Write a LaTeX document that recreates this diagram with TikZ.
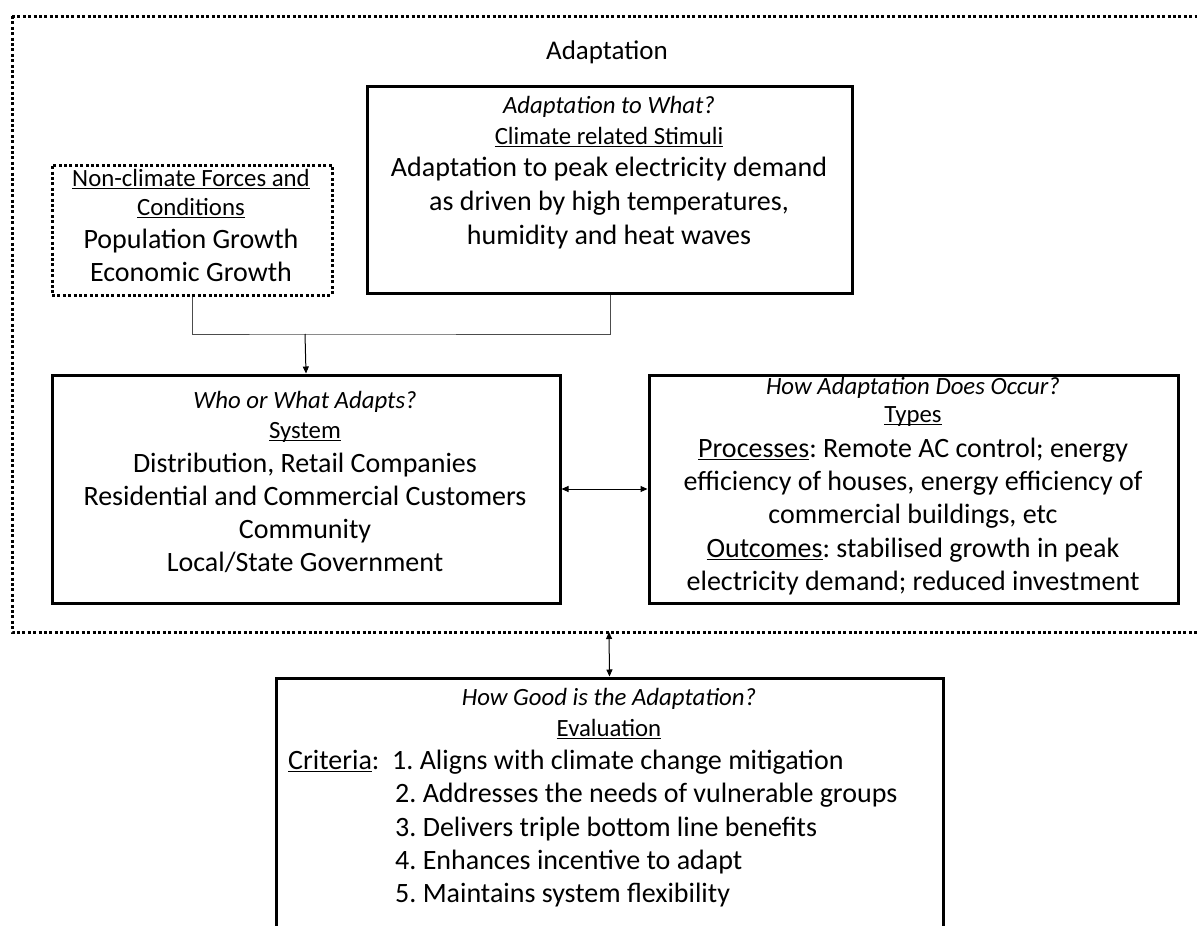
\documentclass[tikz,border=0pt]{standalone}
\usepackage{fontspec}
\setmainfont{Carlito}
\usetikzlibrary{arrows.meta}
\newcommand\myul[1]{\setbox0\hbox{#1}\rlap{\rule[-2.8pt]{\wd0}{1pt}}\box0}
\tikzset{
  box/.style={draw, line width=3pt, inner sep=0pt},
  dotbox/.style={draw, line width=3pt, dash pattern=on 3pt off 2.4pt, inner sep=0pt},
  big/.style={anchor=base, font=\fontsize{28}{32}\selectfont\frenchspacing, inner sep=0pt},
  small/.style={anchor=base, font=\fontsize{24.8}{28}\selectfont\frenchspacing, inner sep=0pt},
  bigw/.style={big, anchor=base west},
  conn/.style={line width=1pt},
  tip/.style={-{Triangle[length=7pt,width=6pt]}},
  tips/.style={{Triangle[length=7pt,width=6pt]}-{Triangle[length=7pt,width=6pt]}}
}
\begin{document}
\begin{tikzpicture}[x=1pt,y=-1pt]
\useasboundingbox (0,0) rectangle (1197,926);
\clip (0,0) rectangle (1197,926);
% outer adaptation frame
\draw[line width=3pt, dash pattern=on 3pt off 2.4pt] (12,16) -- (1215,16) (12,16) -- (12,632) -- (1215,632);
\coordinate (frameB) at (609,632);
\node[small, font=\fontsize{27}{30}\selectfont] (title) at (607,59) {Adaptation};

% boxes
\node[dotbox, minimum width=280pt, minimum height=130pt] (nc) at (192,230) {};
\node[box, minimum width=485pt, minimum height=207pt] (cl) at (610,190) {};
\node[box, minimum width=508pt, minimum height=228pt] (who) at (306,489) {};
\node[box, minimum width=529pt, minimum height=228pt] (how) at (913.5,489) {};
\node[box, minimum width=667pt, minimum height=300pt] (ev) at (609.5,828) {};

% non-climate text
\node[small] (nc1) at (191,186) {\myul{Non-climate Forces and}};
\node[small] (nc2) at (191,215) {\myul{Conditions}};
\node[big] (nc3) at (191,248) {Population Growth};
\node[big] (nc4) at (191,281) {Economic Growth};

% climate text
\node[small] (cl1) at (609,113) {\itshape Adaptation to What?};
\node[small] (cl2) at (609,144) {\myul{Climate related Stimuli}};
\node[big] (cl3) at (609,176) {Adaptation to peak electricity demand};
\node[big] (cl4) at (609,210) {as driven by high temperatures,};
\node[big] (cl5) at (609,244) {humidity and heat waves};

% who text
\node[small] (w1) at (305,408) {\itshape Who or What Adapts?};
\node[small] (w2) at (305,438) {\myul{System}};
\node[big] (w3) at (305,472) {Distribution, Retail Companies};
\node[big] (w4) at (305,505) {Residential and Commercial Customers};
\node[big] (w5) at (305,538) {Community};
\node[big] (w6) at (305,571) {Local/State Government};

% how text
\node[small] (h1) at (913,394) {\itshape How Adaptation Does Occur?};
\node[small] (h2) at (913,422) {\myul{Types}};
\node[big] (h3) at (913,457) {\myul{Processes}: Remote AC control; energy};
\node[big] (h4) at (913,490) {efficiency of houses, energy efficiency of};
\node[big] (h5) at (913,523) {commercial buildings, etc};
\node[big] (h6) at (913,557) {\myul{Outcomes}: stabilised growth in peak};
\node[big] (h7) at (913,590) {electricity demand; reduced investment};

% evaluation text
\node[small] (e1) at (609,705) {\itshape How Good is the Adaptation?};
\node[small] (e2) at (609,736) {\myul{Evaluation}};
\node[bigw] (e3) at (288,769) {\myul{Criteria}:};
\node[bigw] (e4) at (392,769) {1. Aligns with climate change mitigation};
\node[bigw] (e5) at (395,802) {2. Addresses the needs of vulnerable groups};
\node[bigw] (e6) at (395,836) {3. Delivers triple bottom line benefits};
\node[bigw] (e7) at (395,869) {4. Enhances incentive to adapt};
\node[bigw] (e8) at (395,902) {5. Maintains system flexibility};

% connectors
\coordinate (j) at (305,334);
\draw[conn, black!70] (nc.south) |- (j) -| (cl.south);
\draw[conn, tip] (j) -- (who.north);
\draw[conn, tips] (who.east) -- (how.west);
\draw[conn, tips] (frameB) -- (ev.north);
\end{tikzpicture}
\end{document}
